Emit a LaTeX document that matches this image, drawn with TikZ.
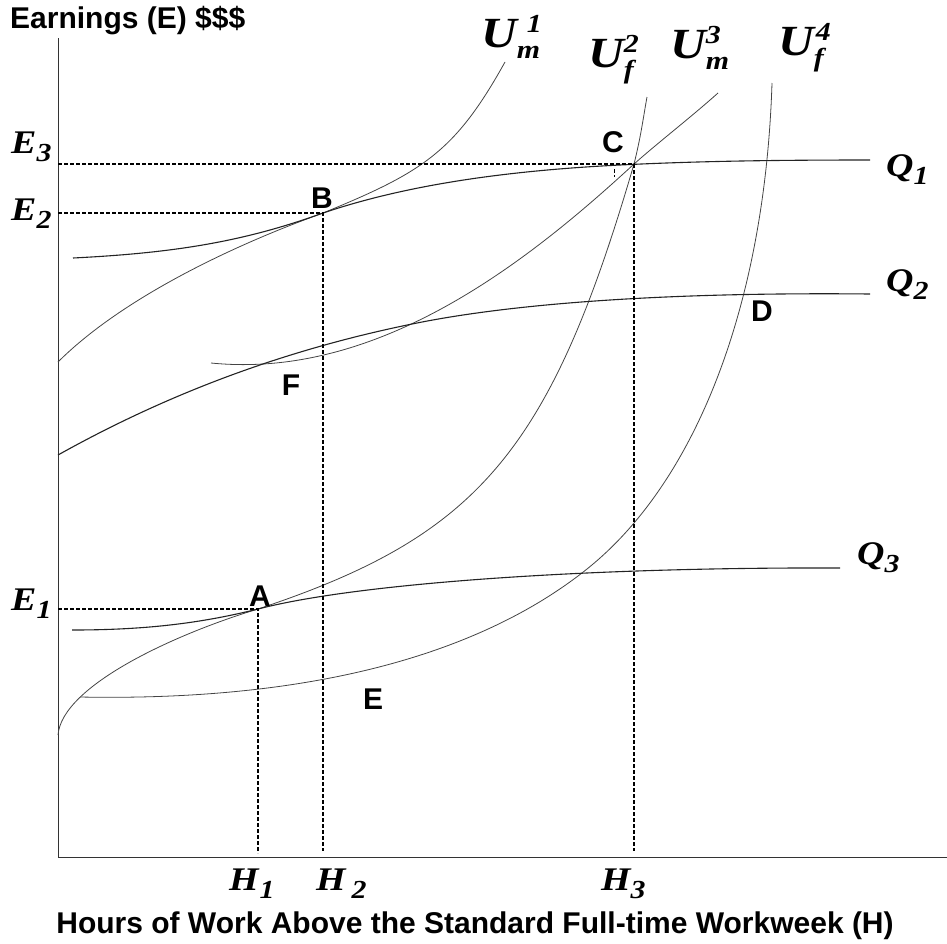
\documentclass[tikz,border=0pt]{standalone}
\usepackage{fontspec}
\setmainfont{Liberation Serif}
\newfontfamily\arialfont{Liberation Sans}
\newfontfamily\labelfont[FakeStretch=1.15]{Liberation Serif}
\usetikzlibrary{positioning}
\definecolor{curvegray}{RGB}{35,35,35}
\newcommand{\labscript}{\fontsize{26}{26}\selectfont}
\newcommand{\sublbl}[2]{#1\raisebox{-8pt}{\labscript #2}}
\newcommand{\ulbl}[3][0pt]{U\rlap{\kern#1\raisebox{15pt}{\labscript #2}}\raisebox{-11pt}{\labscript #3}}

\begin{document}
\begin{tikzpicture}[x=1pt, y=-1pt,
  axis/.style={line width=1pt, black!80},
  qcurve/.style={line width=1.1pt, curvegray},
  ucurve/.style={line width=0.8pt, curvegray!85},
  guide/.style={line width=1.5pt, dash pattern=on 4pt off 2pt},
  title/.style={font=\arialfont\bfseries\fontsize{30}{30}\selectfont, inner sep=0pt},
  ptlbl/.style={font=\arialfont\bfseries\fontsize{30}{30}\selectfont, inner sep=0pt},
  mathlbl/.style={font=\labelfont\bfseries\itshape\fontsize{33}{33}\selectfont, inner sep=0pt, anchor=base west},
  ulabel/.style={font=\labelfont\bfseries\itshape\fontsize{43}{43}\selectfont, inner sep=0pt, anchor=base west}]
  \useasboundingbox (0,0) rectangle (947,943);
  % Axes
  \coordinate (top) at (58,38);
  \coordinate (O) at (58,857);
  \coordinate (right) at (947,857);
  \draw[axis] (top) -- (O) -- (right);

  % Tangency points
  \coordinate (A) at (258,609);
  \coordinate (B) at (323,213);
  \coordinate (C) at (634,164);

  % Indifference curves
  \draw[ucurve] (58,362) .. controls (118,302) and (223,249) .. (B)
    .. controls (423,172) and (455,152) .. (505,62);
  \draw[ucurve] (58,735) .. controls (62,685) and (178,633) .. (A)
    .. controls (478,536) and (550,452) .. (C)
    .. controls (641,136) and (643,119) .. (647,97);
  \draw[ucurve] (211,363) .. controls (381,380) and (532,258) .. (C)
    .. controls (660,141) and (690,118) .. (718,93);
  \draw[ucurve] (80,697) .. controls (342,702) and (497,641) .. (587,569)
    .. controls (697,481) and (765,303) .. (772,83);

  % Earnings curves
  \draw[qcurve] (73,258) .. controls (173,253) and (243,242) .. (B)
    .. controls (403,186) and (500,171) .. (620,165)
    .. controls (700,161) and (780,160) .. (870,160);
  \draw[qcurve] (58,455) .. controls (178,388) and (297,347) .. (417,323)
    .. controls (517,303) and (670,292) .. (870,294);
  \draw[qcurve] (72,630) .. controls (142,630) and (198,624) .. (A)
    .. controls (358,583) and (590,567) .. (840,568);

  % Guides to the axes
  \coordinate (e1) at (58,609);
  \coordinate (e2) at (58,213);
  \coordinate (e3) at (58,164);
  \coordinate (h1) at (258,853);
  \coordinate (h2) at (323,851);
  \coordinate (h3) at (634,851);
  \draw[guide] (e1) -- (A) -- (h1);
  \draw[guide] (e2) -- (B) -- (h2);
  \draw[guide] (e3) -- (C) -- (h3);
  \draw[guide, line width=1pt] (614,169) -- (614,177);

  % Axis titles
  \node[title, anchor=base west] (ytitle) at (10,28) {Earnings (E) \$\$\$};
  \node[title, anchor=base] (xtitle) at (475,933) {Hours of Work Above the Standard Full-time Workweek (H)};

  % Axis labels
  \node[mathlbl] (E3) at (11,153) {\sublbl{E}{3}};
  \node[mathlbl] (E2) at (11,220) {\sublbl{E}{2}};
  \node[mathlbl] (E1) at (11,610) {\sublbl{E}{1}};
  \node[mathlbl] (H1) at (229,890) {\sublbl{H}{\kern1pt1}};
  \node[mathlbl] (H2) at (316,890) {\sublbl{H}{\kern6pt2}};
  \node[mathlbl] (H3) at (601,890) {\sublbl{H}{\kern0pt3}};

  % Curve labels
  \node[mathlbl] (Q1) at (886,176) {\sublbl{Q}{1}};
  \node[mathlbl] (Q2) at (886,291) {\sublbl{Q}{2}};
  \node[mathlbl] (Q3) at (857,564) {\sublbl{Q}{3}};
  \node[ulabel] (Um1) at (481,47) {\ulbl[10pt]{1}{m}};
  \node[ulabel] (Uf2) at (588,67) {\ulbl{2}{f}};
  \node[ulabel] (Um3) at (670,58) {\ulbl{3}{m}};
  \node[ulabel] (Uf4) at (778,55) {\ulbl[2pt]{4}{f}};

  % Point labels
  \node[ptlbl] (lA) at (260,596) {A};
  \node[ptlbl] (lB) at (322,198) {B};
  \node[ptlbl] (lC) at (613,142) {C};
  \node[ptlbl] (lD) at (762,311) {D};
  \node[ptlbl] (lE) at (373,699) {E};
  \node[ptlbl] (lF) at (291,385) {F};
\end{tikzpicture}
\end{document}
